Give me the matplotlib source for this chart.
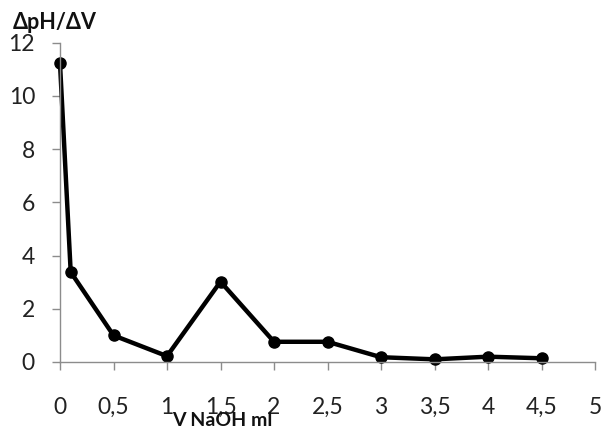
import matplotlib
matplotlib.use("Agg")
import matplotlib.pyplot as plt

x_vals = [0, 0.1, 0.5, 1.0, 1.5, 2.0, 2.5, 3.0, 3.5, 4.0, 4.5]
y_vals = [11.22, 3.38, 1.0, 0.22, 3.02, 0.76, 0.76, 0.18, 0.1, 0.2, 0.14]
x_ticks = [0, 0.5, 1, 1.5, 2, 2.5, 3, 3.5, 4, 4.5, 5]
x_ticklabels = ["0", "0,5", "1", "1,5", "2", "2,5", "3", "3,5", "4", "4,5", "5"]
y_ticks = [0, 2, 4, 6, 8, 10, 12]
y_ticklabels = ["0", "2", "4", "6", "8", "10", "12"]
x_title = "V NaOH ml"
y_title = "ΔpH/ΔV"

plt.rcParams['font.family'] = ['Lato', 'DejaVu Sans']

fig = plt.figure(figsize=(6.01, 4.30), dpi=100)
ax = fig.add_axes([60/601, 1-362/430, (595-60)/601, (362-42.7)/430])
ax.plot(x_vals, y_vals, color='black', lw=3.2, marker='o', ms=8, clip_on=False)
ax.set_xlim(0, 5)
ax.set_ylim(0, 12)
ax.set_xticks(x_ticks)
ax.set_xticklabels(x_ticklabels)
ax.set_yticks(y_ticks)
ax.set_yticklabels(y_ticklabels)
for s in ['top', 'right']:
    ax.spines[s].set_visible(False)
for s in ['left', 'bottom']:
    ax.spines[s].set_color('#8c8c8c')
    ax.spines[s].set_linewidth(1.0)
ax.tick_params(axis='both', colors='#8c8c8c', labelcolor='#222222', length=6, width=1.0, labelsize=16.5)
ax.tick_params(axis='x', pad=19)
ax.tick_params(axis='y', pad=12)

fig.text(222/601, 1-412/430, x_title, ha='center', va='top', fontsize=14, fontweight='bold', color='#111111')
fig.text(13/601, 1-12/430, y_title, ha='left', va='top', fontsize=15.5, fontweight='bold', color='#111111')

fig.savefig("out.png", dpi=100)
